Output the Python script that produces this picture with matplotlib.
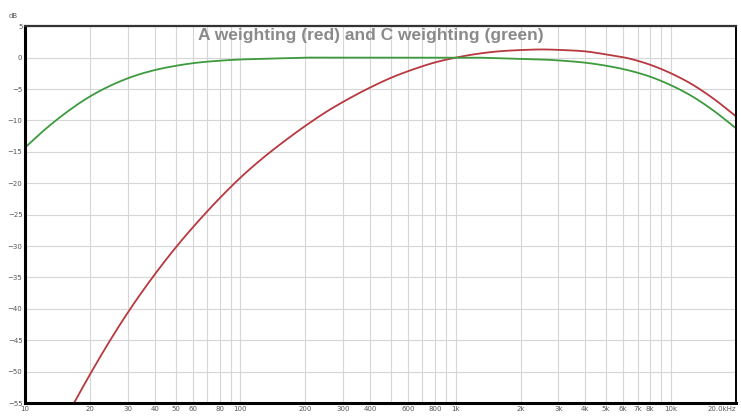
import numpy as np
import matplotlib.pyplot as plt
from matplotlib.ticker import FixedLocator, NullFormatter

# third-octave band centres (Hz)
freqs = [10.0, 12.59, 15.85, 19.95, 25.12, 31.62, 39.81, 50.12, 63.10, 79.43,
         100.0, 125.9, 158.5, 199.5, 251.2, 316.2, 398.1, 501.2, 631.0, 794.3,
         1000.0, 1259, 1585, 1995, 2512, 3162, 3981, 5012, 6310, 7943,
         10000, 12589, 15849, 19953]

# A weighting (dB)
a_weight = [-70.4, -63.4, -56.7, -50.5, -44.7, -39.4, -34.6, -30.2, -26.2, -22.5,
            -19.1, -16.1, -13.4, -10.9, -8.6, -6.6, -4.8, -3.2, -1.9, -0.8,
            0.0, 0.6, 1.0, 1.2, 1.3, 1.2, 1.0, 0.5, -0.1, -1.1,
            -2.5, -4.3, -6.6, -9.3]

# C weighting (dB)
c_weight = [-14.3, -11.2, -8.5, -6.2, -4.4, -3.0, -2.0, -1.3, -0.8, -0.5,
            -0.3, -0.2, -0.1, 0.0, 0.0, 0.0, 0.0, 0.0, 0.0, 0.0,
            0.0, 0.0, -0.1, -0.2, -0.3, -0.5, -0.8, -1.3, -2.0, -3.0,
            -4.4, -6.2, -8.5, -11.2]

tick_pos = [10, 20, 30, 40, 50, 60, 80, 100, 200, 300, 400, 600, 800, 1000,
            2000, 3000, 4000, 5000, 6000, 7000, 8000, 10000, 20000]
tick_lab = ["10", "20", "30", "40", "50", "60", "80", "100", "200", "300", "400",
            "600", "800", "1k", "2k", "3k", "4k", "5k", "6k", "7k", "8k", "10k",
            "20.0kHz"]
db_ticks = list(range(-55, 6, 5))


def hermite(x, y, xf):
    # cubic Hermite through the points, slopes from neighbouring points
    x = np.asarray(x, float)
    y = np.asarray(y, float)
    m = np.gradient(y, x)
    i = np.clip(np.searchsorted(x, xf) - 1, 0, len(x) - 2)
    h = x[i + 1] - x[i]
    t = (xf - x[i]) / h
    h00 = 2 * t ** 3 - 3 * t ** 2 + 1
    h10 = t ** 3 - 2 * t ** 2 + t
    h01 = -2 * t ** 3 + 3 * t ** 2
    h11 = t ** 3 - t ** 2
    return h00 * y[i] + h10 * h * m[i] + h01 * y[i + 1] + h11 * h * m[i + 1]


fig = plt.figure(figsize=(7.41, 4.16), dpi=100)
ax = fig.add_axes([0.034, 0.031, 0.959, 0.906])

lf = np.log10(freqs)
fine = np.linspace(lf[0], lf[-1], 800)
ax.plot(10 ** fine, hermite(lf, a_weight, fine), color="#b8383f", lw=1.3)
ax.plot(10 ** fine, hermite(lf, c_weight, fine), color="#3e9a3e", lw=1.3)

ax.set_xscale("log")
ax.set_xlim(10, 20000)
ax.set_ylim(-55, 5)

# grid at every 1..9 step of each decade
grid_x = [m * 10 ** e for e in range(1, 5) for m in range(1, 10) if m * 10 ** e <= 20000]
ax.xaxis.set_major_locator(FixedLocator(tick_pos))
ax.set_xticklabels(tick_lab)
ax.xaxis.set_minor_locator(FixedLocator(grid_x))
ax.xaxis.set_minor_formatter(NullFormatter())
ax.set_yticks(db_ticks)
ax.grid(True, which="both", axis="x", color="#d6d6d6", lw=0.8)
ax.grid(True, axis="y", color="#d6d6d6", lw=0.8)
ax.set_axisbelow(True)

ax.tick_params(axis="both", which="both", length=0, labelsize=5, colors="#555555", pad=2)
ax.get_xticklabels()[-1].set_horizontalalignment("right")

for side in ["left", "bottom"]:
    ax.spines[side].set_linewidth(2.2)
ax.spines["top"].set_linewidth(1.6)
ax.spines["top"].set_color("#333333")
ax.spines["right"].set_linewidth(1.4)

fig.text(0.018, 0.962, "dB", fontsize=5, color="#555555", ha="center", va="center")
ax.text(0.486, 0.976, "A weighting (red) and C weighting (green)", transform=ax.transAxes,
        ha="center", va="center", fontsize=12.5, fontweight="bold", color="#8a8a8a",
        family="Liberation Sans")

fig.savefig("out.png", dpi=100)
